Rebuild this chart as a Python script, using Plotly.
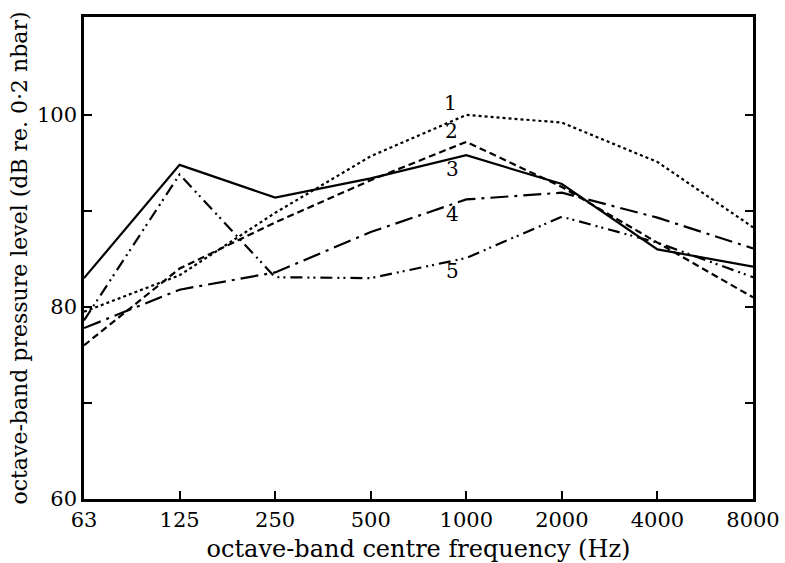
import plotly.graph_objects as go

freq_labels = ["63", "125", "250", "500", "1000", "2000", "4000", "8000"]
x_idx = list(range(len(freq_labels)))

curve1 = [79.5, 83.3, 89.8, 95.7, 100.0, 99.2, 95.1, 88.3]
curve2 = [76.0, 84.0, 88.8, 93.2, 97.2, 92.5, 86.7, 81.0]
curve3 = [83.0, 94.8, 91.4, 93.4, 95.8, 92.8, 86.0, 84.2]
curve4 = [77.8, 81.8, 83.6, 87.8, 91.2, 91.9, 89.3, 86.1]
curve5 = [78.6, 93.8, 83.1, 83.0, 85.1, 89.4, 86.7, 83.1]

series = [
    ("1", curve1, "dot"),
    ("2", curve2, "7px,4px"),
    ("3", curve3, "solid"),
    ("4", curve4, "18px,6px,3px,6px"),
    ("5", curve5, "12px,5px,2px,4px,2px,5px"),
]

label_pos = {"1": (3.83, 101.2), "2": (3.85, 98.3), "3": (3.86, 94.4), "4": (3.86, 89.7), "5": (3.86, 83.7)}

font_family = "DejaVu Serif, serif"

fig = go.Figure()
for name, vals, dash in series:
    fig.add_trace(go.Scatter(x=x_idx, y=vals, mode="lines", name=name,
                             line=dict(color="black", width=2.2, dash=dash),
                             showlegend=False))

for name, (lx, ly) in label_pos.items():
    fig.add_annotation(x=lx, y=ly, text=name, showarrow=False,
                       font=dict(family=font_family, size=20, color="black"))

fig.update_layout(
    width=785, height=563,
    margin=dict(l=84, r=32, t=17, b=64),
    paper_bgcolor="white", plot_bgcolor="white",
    font=dict(family=font_family, color="black"),
    xaxis=dict(
        range=[0, 7], tickmode="array", tickvals=x_idx, ticktext=freq_labels,
        ticks="inside", ticklen=8, tickwidth=2, tickcolor="black",
        showline=True, linecolor="black", linewidth=2.5, mirror=True,
        showgrid=False, zeroline=False, automargin=False,
        tickfont=dict(family=font_family, size=21),
        title=dict(text="octave-band centre frequency (Hz)",
                   font=dict(family=font_family, size=24), standoff=10),
    ),
    yaxis=dict(
        range=[60, 110.2], tickmode="array", tickvals=[60, 70, 80, 90, 100],
        ticktext=["60", "", "80", "", "100"],
        ticks="inside", ticklen=8, tickwidth=2, tickcolor="black",
        showline=True, linecolor="black", linewidth=2.5, mirror="ticks",
        showgrid=False, zeroline=False, automargin=False,
        tickfont=dict(family=font_family, size=21),
        title=dict(text="octave-band pressure level (dB re. 0·2 nbar)",
                   font=dict(family=font_family, size=22), standoff=4),
    ),
)

fig.write_html("out.html")
